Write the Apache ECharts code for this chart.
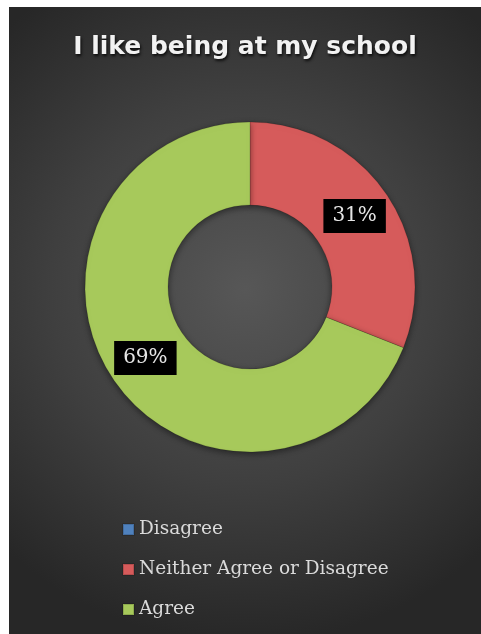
<!DOCTYPE html>
<html>
<head>
<meta charset="utf-8">
<script src="https://cdn.jsdelivr.net/npm/echarts@6/dist/echarts.min.js"></script>
<style>
  html, body { margin: 0; padding: 0; background: #ffffff; }
  #chart { position: absolute; left: 9px; top: 7px; width: 472px; height: 627px; }
</style>
</head>
<body>
<div id="chart"></div>
<script>
// Survey responses for "I like being at my school"
const titleText = 'I like being at my school';
const categories = ['Disagree', 'Neither Agree or Disagree', 'Agree'];
const percentages = [0, 31, 69];
const sliceColors = ['#4f81bd', '#d65b5b', '#a7c95b'];

const chart = echarts.init(document.getElementById('chart'));

const pieData = categories.map((name, i) => ({
  name: name,
  value: percentages[i],
  itemStyle: { color: sliceColors[i] },
  label: { show: percentages[i] > 0 }
}));

chart.setOption({
  backgroundColor: {
    type: 'radial', x: 0.5, y: 0.45, r: 0.75,
    colorStops: [
      { offset: 0, color: '#575757' },
      { offset: 0.55, color: '#3f3f3f' },
      { offset: 1, color: '#272727' }
    ]
  },
  title: {
    text: titleText,
    left: 'center',
    top: 23,
    textStyle: {
      fontFamily: 'DejaVu Sans',
      fontWeight: 'bold',
      fontSize: 25,
      color: '#f2f2f2',
      textShadowColor: 'rgba(0,0,0,0.8)',
      textShadowBlur: 3,
      textShadowOffsetX: 1,
      textShadowOffsetY: 2
    }
  },
  legend: {
    orient: 'vertical',
    left: 113,
    top: 513,
    padding: 0,
    itemWidth: 11,
    itemHeight: 11,
    itemGap: 21,
    itemTextGap: 5,
    icon: 'rect',
    data: categories,
    textStyle: {
      fontFamily: 'DejaVu Serif',
      fontSize: 18.5,
      color: '#dadada'
    }
  },
  series: [{
    type: 'pie',
    center: [241, 280],
    radius: [82, 165],
    startAngle: 90,
    clockwise: true,
    avoidLabelOverlap: false,
    emphasis: { disabled: true },
    itemStyle: {
      borderColor: 'rgba(0,0,0,0.15)',
      borderWidth: 1,
      shadowColor: 'rgba(0,0,0,0.45)',
      shadowBlur: 6,
      shadowOffsetY: 2
    },
    label: {
      show: true,
      position: 'inside',
      formatter: '{c}%',
      fontFamily: 'DejaVu Serif',
      fontSize: 20,
      color: '#e6e6e6',
      backgroundColor: '#000000',
      padding: [8, 9, 6, 9]
    },
    labelLine: { show: false },
    data: pieData
  }]
});
</script>
</body>
</html>
